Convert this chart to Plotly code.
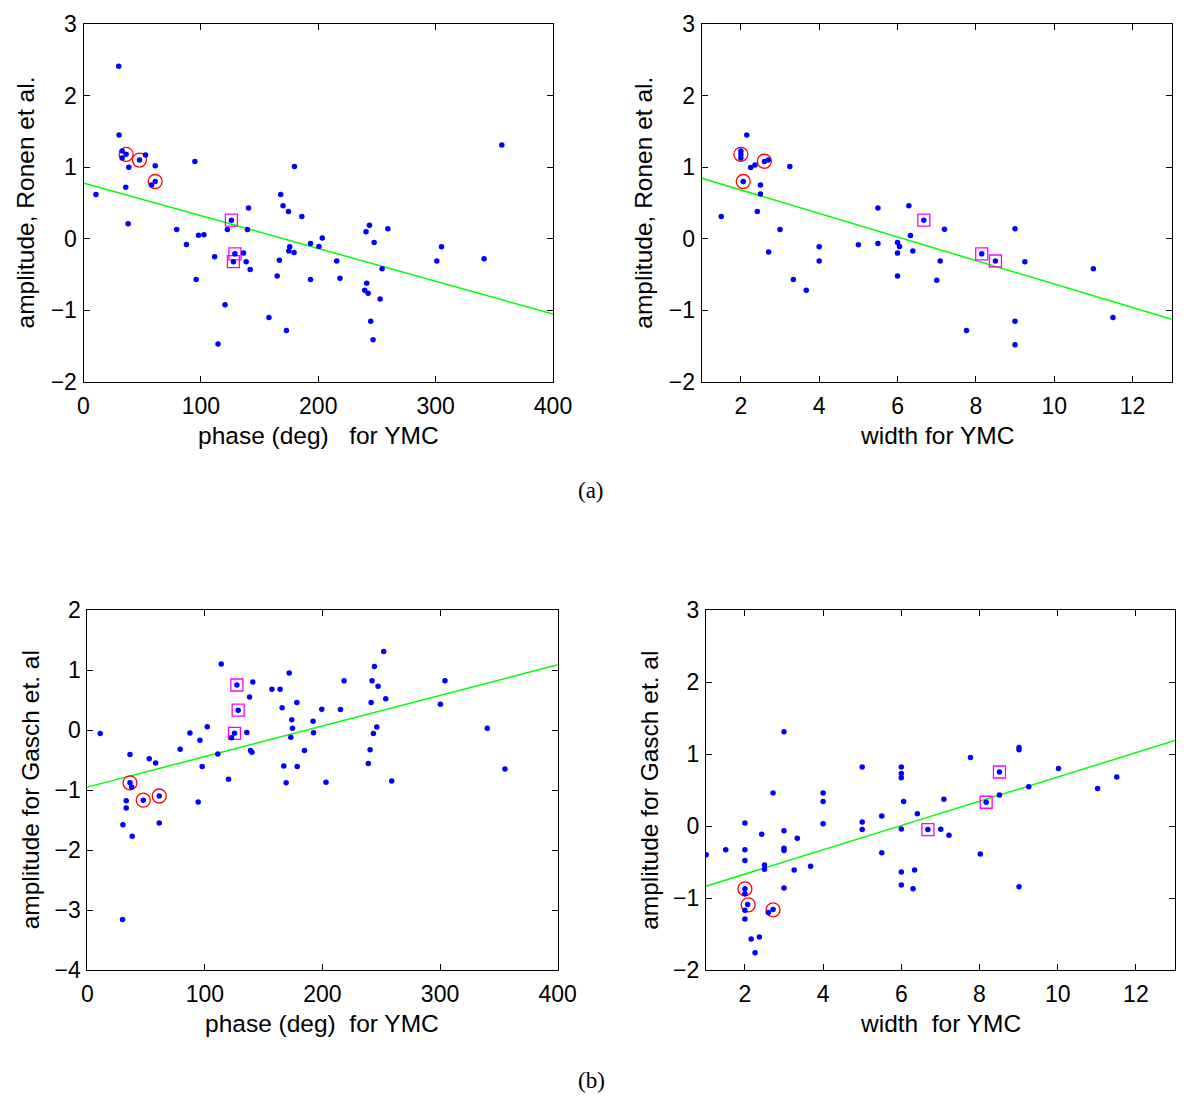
import plotly.graph_objects as go

# page body has an 8px default margin; figure sized so page == 1200x1104
PAGE_W, PAGE_H = 1200, 1104
OFF = 8
W, H = PAGE_W - 2 * OFF, PAGE_H - 2 * OFF

# ---------------- data ----------------
# (a) left: phase vs amplitude (Ronen et al.)
tl_x = [30, 30.3, 32.9, 36.3, 32.9, 47.7, 52.9, 38.6, 61.1, 61.1, 58, 36, 10.6, 38, 94.9, 79.4, 87.7, 98, 102.6,
        96, 111.7, 120.6, 114.6, 126, 122.6, 140.6, 139.7, 129, 136.3, 127.7, 138.6, 142, 158, 172.9, 165, 166.9,
        168, 170, 174.6, 179.7, 186, 175.7, 174.9, 179.4, 193.4, 193.4, 200.6, 203.4, 215.7, 218.5, 240.7, 243.6,
        247.6, 259.3, 254.4, 241.3, 239.6, 242.5, 252.7, 244.7, 246.7, 301, 305, 341.3, 356.4]
tl_y = [2.41, 1.45, 1.227, 1.18, 1.13, 1.10, 1.17, 1.0, 1.02, 0.80, 0.75, 0.72, 0.62, 0.21, 1.08, 0.13, -0.08, 0.05,
        0.056, -0.57, -0.25, -0.92, -1.47, 0.26, 0.13, 0.43, 0.13, -0.21, -0.2, -0.32, -0.32, -0.43, -1.10, -1.28,
        -0.52, -0.30, 0.62, 0.46, 0.38, 1.01, 0.31, -0.11, -0.17, -0.19, -0.065, -0.57, -0.106, 0.01, -0.31, -0.55,
        0.10, 0.19, -0.05, 0.14, -0.42, -0.62, -0.72, -0.76, -0.84, -1.15, -1.41, -0.31, -0.11, -0.28, 1.31]
tl_circ_x = [36.3, 47.7, 61.1]
tl_circ_y = [1.18, 1.10, 0.80]
tl_sq_x = [126, 129, 127.7]
tl_sq_y = [0.26, -0.21, -0.32]
tl_fit = [0.78, -0.004575]  # intercept, slope

# (a) right: width vs amplitude (Ronen et al.)
tr_x = [2.15, 2.0, 2.0, 2.0, 2.25, 2.36, 2.6, 2.7, 3.25, 2.06, 2.5, 2.5, 1.5, 2.42, 3.0, 2.71, 4.0, 4.0, 3.34, 3.67,
        5.0, 5.5, 5.5, 6.0, 6.05, 6.0, 6.0, 6.29, 6.33, 6.39, 6.67, 7.0, 7.2, 7.09, 7.76, 8.15, 8.5, 9.0, 9.25, 9.0,
        9.0, 11.0, 11.5]
tr_y = [1.45, 1.227, 1.18, 1.13, 0.995, 1.03, 1.08, 1.10, 1.01, 0.80, 0.75, 0.625, 0.31, 0.38, 0.13, -0.185, -0.11,
        -0.31, -0.57, -0.72, -0.083, 0.43, -0.065, -0.05, -0.106, -0.2, -0.52, 0.46, 0.046, -0.17, 0.26, -0.58,
        0.134, -0.31, -1.28, -0.21, -0.31, 0.14, -0.32, -1.15, -1.48, -0.42, -1.10]
tr_circ_x = [2.0, 2.6, 2.06]
tr_circ_y = [1.18, 1.083, 0.80]
tr_sq_x = [6.67, 8.15, 8.5]
tr_sq_y = [0.26, -0.21, -0.31]
tr_fit = [1.011, -0.1643]

# (b) left: phase vs amplitude (Gasch et al.)
bl_x = [11, 36.3, 36.3, 37.7, 47.6, 61.2, 33.1, 33.1, 30.3, 38.2, 30, 52.7, 58.1, 61.2, 79, 87.3, 95.8, 102, 97.7,
        94.3, 111, 113.9, 120.1, 127.2, 128.3, 125.2, 122.7, 135.7, 138, 140.8, 138.8, 140, 157, 164, 165.7, 171.7,
        178.2, 173.9, 174.5, 173.1, 167.1, 169.1, 178.5, 184.7, 192, 192.4, 199.4, 203, 215.3, 218.4, 239, 240.5,
        241.4, 242.2, 243.3, 244.2, 246.2, 247.3, 252.1, 253.8, 258.9, 300.3, 304.2, 340.2, 355.2]
bl_y = [-0.06, -0.41, -0.88, -0.95, -1.17, -1.10, -1.18, -1.30, -1.58, -1.77, -3.16, -0.48, -0.55, -1.55, -0.32,
        -0.05, -0.17, 0.056, -0.61, -1.20, -0.40, 1.10, -0.82, 0.75, 0.33, -0.056, -0.13, -0.04, 0.55, 0.80, -0.34,
        -0.37, 0.68, 0.68, 0.37, 0.95, 0.46, 0.17, 0.03, -0.12, -0.60, -0.88, -0.61, -0.34, 0.145, -0.045, 0.345,
        -0.87, 0.34, 0.82, -0.56, -0.33, 0.46, 0.82, -0.06, 1.06, 0.05, 0.73, 1.31, 0.52, -0.85, 0.43, 0.82, 0.03,
        -0.65]
bl_circ_x = [36.3, 47.6, 61.2]
bl_circ_y = [-0.88, -1.17, -1.10]
bl_sq_x = [127.2, 128.3, 125.2]
bl_sq_y = [0.75, 0.33, -0.056]
bl_fit = [-0.952, 0.005095]

# (b) right: width vs amplitude (Gasch et al.)
br_x = [1.01, 1.51, 2.0, 2.0, 2.0, 2.0, 2.0, 2.07, 2.0, 2.0, 2.16, 2.37, 2.26, 2.43, 2.5, 2.5, 2.6, 2.72, 2.72, 3.0,
        3.0, 3.0, 3.0, 3.0, 3.26, 3.34, 3.68, 4.0, 4.0, 4.0, 5.0, 5.0, 5.0, 5.5, 5.5, 6.0, 6.0, 6.0, 6.06, 6.0, 6.0,
        6.0, 6.3, 6.34, 6.41, 6.68, 7.01, 7.22, 7.09, 7.77, 8.02, 8.17, 8.51, 8.51, 9.01, 9.01, 9.26, 9.01, 10.02,
        11.02, 11.51]
br_y = [-0.40, -0.33, 0.04, -0.33, -0.48, -0.87, -0.94, -1.09, -1.17, -1.29, -1.57, -1.54, -1.76, -0.115, -0.54,
        -0.60, -1.20, -1.16, 0.46, 1.31, -0.065, -0.31, -0.34, -0.86, -0.61, -0.17, -0.56, 0.46, 0.34, 0.03, 0.82,
        0.055, -0.05, 0.14, -0.37, 0.82, 0.73, 0.67, 0.34, -0.04, -0.64, -0.82, -0.87, -0.61, 0.17, -0.05, -0.046,
        -0.13, 0.37, 0.95, -0.39, 0.33, 0.75, 0.43, 1.09, 1.06, 0.545, -0.845, 0.80, 0.52, 0.68]
br_circ_x = [2.0, 2.085, 2.72]
br_circ_y = [-0.873, -1.095, -1.164]
br_sq_x = [6.68, 8.17, 8.51]
br_sq_y = [-0.05, 0.33, 0.75]
br_fit = [-1.005, 0.1686]

phase_range = [0, 400]
width_range = [1, 13]
ronen_range = [-2, 3]
gasch_phase_range = [-4, 2]
gasch_width_range = [-2, 3]

x_titles = ["phase (deg)   for YMC", "width for YMC", "phase (deg)  for YMC", "width  for YMC"]
y_titles = ["amplitude, Ronen et al.", "amplitude, Ronen et al.",
            "amplitude for Gasch et. al", "amplitude for Gasch et. al"]
panel_labels = ["(a)", "(b)"]

# ---------------- layout (page-pixel boxes) ----------------
FONT = "Liberation Sans, Arial, Helvetica, sans-serif"
SERIF = "Liberation Serif, Times New Roman, serif"
TICK_SIZE = 23
TITLE_SIZE = 24.5
boxes = [  # left, right, top, bottom in page pixels
    (83.5, 553, 24, 382),
    (701.7, 1171.7, 24, 382),
    (87.3, 557.6, 610, 970),
    (705.8, 1175, 610, 970),
]


def fx_(px):
    return (px - OFF) / W


def fy_(py):
    return 1 - (py - OFF) / H


panels = [
    (tl_x, tl_y, tl_circ_x, tl_circ_y, tl_sq_x, tl_sq_y, tl_fit, phase_range, ronen_range, 100),
    (tr_x, tr_y, tr_circ_x, tr_circ_y, tr_sq_x, tr_sq_y, tr_fit, width_range, ronen_range, 2),
    (bl_x, bl_y, bl_circ_x, bl_circ_y, bl_sq_x, bl_sq_y, bl_fit, phase_range, gasch_phase_range, 100),
    (br_x, br_y, br_circ_x, br_circ_y, br_sq_x, br_sq_y, br_fit, width_range, gasch_width_range, 2),
]

fig = go.Figure()
layout = dict(template="none", width=W, height=H, margin=dict(l=0, r=0, t=0, b=0, pad=0, autoexpand=False),
              paper_bgcolor="white", plot_bgcolor="white", showlegend=False,
              font=dict(family=FONT, size=TICK_SIZE, color="black"))
annotations = []

for i, (px, py, cx, cy, sx, sy, fit, xr, yr, xdt) in enumerate(panels):
    n = "" if i == 0 else str(i + 1)
    xa, ya = "x" + n, "y" + n
    l, r, t, b = boxes[i]
    xdom = [fx_(l), fx_(r)]
    ydom = [fy_(b), fy_(t)]
    tick0 = 0 if xdt == 100 else 2
    common = dict(showgrid=False, zeroline=False, automargin=False,
                  showline=True, linecolor="black", linewidth=1, mirror="ticks",
                  ticks="inside", ticklen=6, tickcolor="black", tickwidth=1,
                  tickfont=dict(family=FONT, size=TICK_SIZE, color="black"))
    layout["xaxis" + n] = dict(domain=xdom, range=xr, anchor=ya, tick0=tick0, dtick=xdt,
                               ticklabelstandoff=3, **common)
    layout["yaxis" + n] = dict(domain=ydom, range=yr, anchor=xa, dtick=1,
                               ticklabelstandoff=1, **common)
    # fit line
    lx = list(xr)
    ly = [fit[0] + fit[1] * v for v in lx]
    fig.add_trace(go.Scatter(x=lx, y=ly, mode="lines", line=dict(color="#00ff00", width=1.5),
                             xaxis=xa, yaxis=ya, hoverinfo="skip"))
    # circles
    fig.add_trace(go.Scatter(x=cx, y=cy, mode="markers", xaxis=xa, yaxis=ya,
                             marker=dict(symbol="circle-open", size=14, color="#ff0000",
                                         line=dict(width=1.3, color="#ff0000"))))
    # squares
    fig.add_trace(go.Scatter(x=sx, y=sy, mode="markers", xaxis=xa, yaxis=ya,
                             marker=dict(symbol="square-open", size=12, color="#ff00ff",
                                         line=dict(width=1.3, color="#ff00ff"))))
    # dots
    fig.add_trace(go.Scatter(x=px, y=py, mode="markers", xaxis=xa, yaxis=ya,
                             marker=dict(symbol="circle", size=5.5, color="#0000ff", line=dict(width=0))))
    # axis titles
    annotations.append(dict(text=x_titles[i], x=fx_((l + r) / 2), y=fy_(b + 53),
                            xref="paper", yref="paper", showarrow=False,
                            xanchor="center", yanchor="middle",
                            font=dict(family=FONT, size=TITLE_SIZE, color="black")))
    ytx = l - 58 if i in (0, 1) else l - 57
    annotations.append(dict(text=y_titles[i], x=fx_(ytx), y=fy_((t + b) / 2),
                            xref="paper", yref="paper", showarrow=False, textangle=-90,
                            xanchor="center", yanchor="middle",
                            font=dict(family=FONT, size=TITLE_SIZE, color="black")))

annotations.append(dict(text=panel_labels[0], x=fx_(591), y=fy_(490), xref="paper", yref="paper",
                        showarrow=False, xanchor="center", yanchor="middle",
                        font=dict(family=SERIF, size=23, color="black")))
annotations.append(dict(text=panel_labels[1], x=fx_(591), y=fy_(1080), xref="paper", yref="paper",
                        showarrow=False, xanchor="center", yanchor="middle",
                        font=dict(family=SERIF, size=23, color="black")))
layout["annotations"] = annotations
fig.update_layout(**layout)
fig.write_html("out.html")
